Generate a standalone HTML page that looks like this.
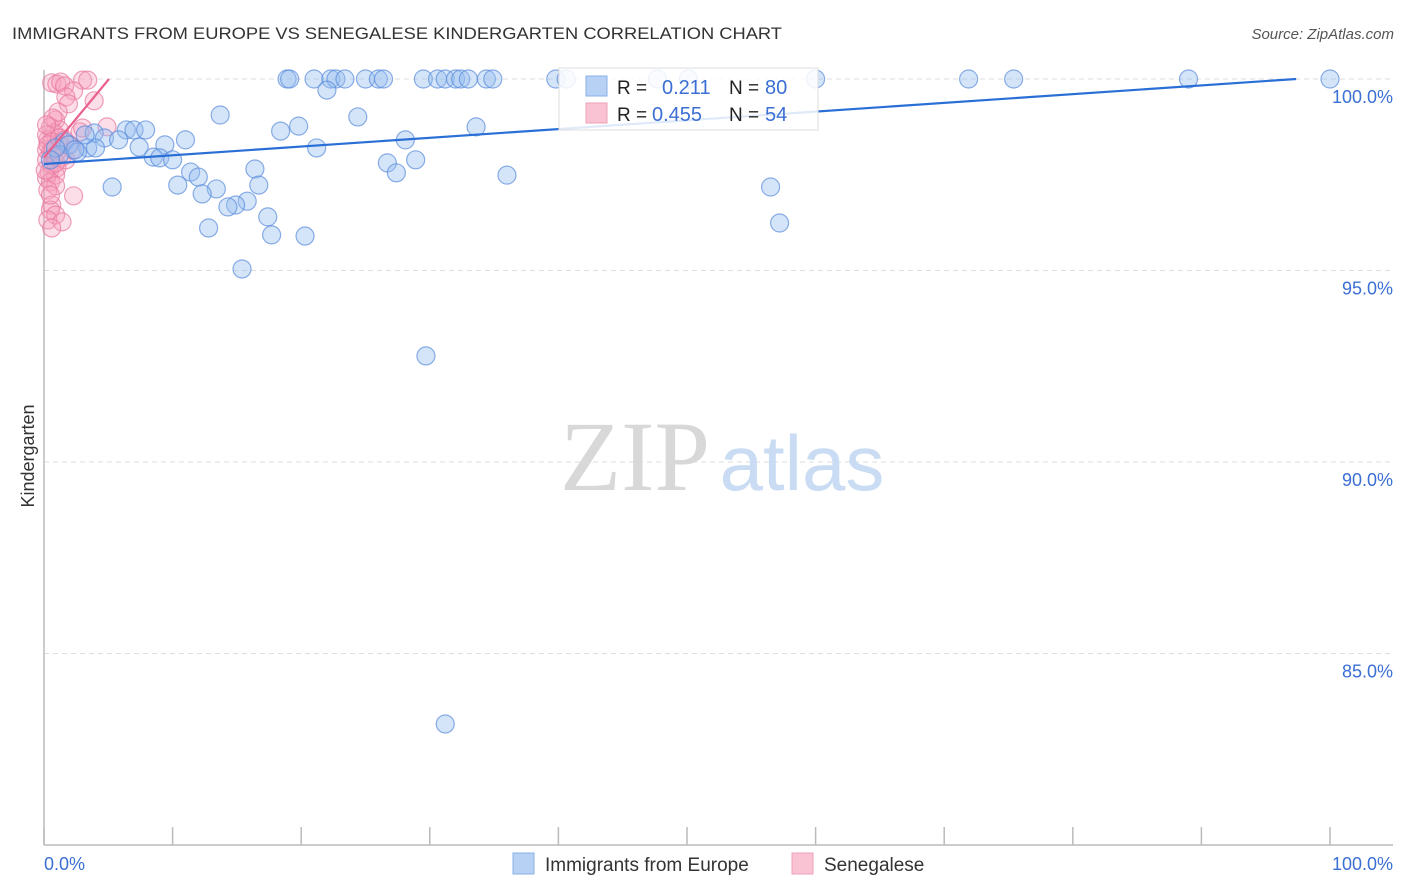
<!DOCTYPE html>
<html><head><meta charset="utf-8"><style>
html,body{margin:0;padding:0;background:#fff;}
svg{display:block;font-family:"Liberation Sans",sans-serif;}
</style></head><body>
<svg id="chart" width="1406" height="892" viewBox="0 0 1406 892">
<text x="12" y="39" font-size="17" fill="#333" textLength="770" lengthAdjust="spacingAndGlyphs">IMMIGRANTS FROM EUROPE VS SENEGALESE KINDERGARTEN CORRELATION CHART</text>
<text x="1394" y="39" font-size="15" fill="#555" font-style="italic" text-anchor="end">Source: ZipAtlas.com</text>
<g id="grid"></g>
<g>
<text x="635" y="490" font-size="100" font-family="Liberation Serif,serif" fill="#d8d8d8" text-anchor="middle">ZIP</text>
<text x="802" y="490" font-size="78" fill="#c9dcf3" text-anchor="middle">atlas</text>
</g>
<line x1="44" y1="70" x2="44" y2="845" stroke="#bbb" stroke-width="1.5"/>
<line x1="44" y1="845" x2="1393" y2="845" stroke="#bbb" stroke-width="1.5"/>
<g id="xticks"></g>
<g id="ylabels"></g>
<text x="44" y="870" font-size="18" fill="#3b6fd4">0.0%</text>
<text x="1393" y="870" font-size="18" fill="#3b6fd4" text-anchor="end">100.0%</text>
<text transform="translate(34,456) rotate(-90)" font-size="18" fill="#333" text-anchor="middle">Kindergarten</text>
<g id="pink"></g>
<g id="blue"></g>
<g id="lines"></g>
<g>
<rect x="559" y="68" width="259" height="62" fill="#fff" fill-opacity="0.85" stroke="#ddd"/>
<rect x="586" y="76" width="21" height="20" fill="#b7d1f5" stroke="#8ab0e8"/>
<rect x="586" y="103" width="21" height="20" fill="#f9c3d3" stroke="#eea0b8"/>
<text x="617" y="94" font-size="19" fill="#222">R = </text><text x="662" y="94" font-size="20" fill="#3b6fd4">0.211</text>
<text x="729" y="94" font-size="19" fill="#222">N = </text><text x="765" y="94" font-size="20" fill="#3b6fd4">80</text>
<text x="617" y="121" font-size="19" fill="#222">R = </text><text x="652" y="121" font-size="20" fill="#3b6fd4">0.455</text>
<text x="729" y="121" font-size="19" fill="#222">N = </text><text x="765" y="121" font-size="20" fill="#3b6fd4">54</text>
</g>
<g>
<rect x="513" y="853" width="21" height="21" fill="#b7d1f5" stroke="#8ab0e8"/>
<text x="545" y="871" font-size="19" fill="#333">Immigrants from Europe</text>
<rect x="792" y="853" width="21" height="21" fill="#f9c3d3" stroke="#eea0b8"/>
<text x="824" y="871" font-size="19" fill="#333">Senegalese</text>
</g>
</svg>
<script>
const yTicks=[100,95,90,85];
const yTickLabels=["100.0%","95.0%","90.0%","85.0%"];
const xTicks=[0,10,20,30,40,50,60,70,80,90,100];
const blueX=[18.9,19.1,21.0,22.3,22.7,23.4,25.0,26.0,26.4,29.5,30.6,31.2,32.0,32.4,33.0,34.4,34.9,39.8,40.6,47.7,50.1,60.0,71.9,75.4,89.0,100,
22.0,13.7,24.4,33.6,19.8,18.4,3.9,6.4,7.0,7.9,4.7,5.8,11.0,28.1,1.6,1.9,9.4,3.4,7.4,21.2,2.6,8.5,9.0,10.0,26.7,28.9,16.4,11.4,27.4,12.0,36.0,5.3,10.4,16.7,56.5,13.4,12.3,15.8,14.9,14.3,17.4,12.8,57.2,17.7,20.3,15.4,29.7,31.2,1.2,0.9,0.5,4.0,2.4,3.2];
const blueY=[100,100,100,100,100,100,100,100,100,100,100,100,100,100,100,100,100,100,100,100,100,100,100,100,100,100,
99.71,99.06,99.01,98.75,98.77,98.64,98.59,98.67,98.67,98.67,98.46,98.41,98.41,98.41,98.36,98.28,98.28,98.20,98.22,98.20,98.09,97.96,97.94,97.89,97.81,97.89,97.65,97.57,97.55,97.44,97.49,97.18,97.23,97.23,97.18,97.13,97.00,96.81,96.71,96.66,96.40,96.11,96.24,95.93,95.90,95.04,92.77,83.16,98.02,98.20,97.89,98.20,98.15,98.54];
const pinkX=[0.6,1.0,1.3,1.6,3.0,3.4,2.3,1.7,3.9,1.9,0.9,0.5,0.8,1.2,2.8,4.9,3.0,0.3,0.6,1.2,2.0,0.2,0.5,0.9,1.4,0.2,0.6,1.0,0.4,0.9,0.2,0.5,0.9,0.3,2.3,0.6,0.5,0.9,0.3,1.4,0.6,0.2,1.1,2.2,1.7,0.3,0.7,1.2,0.1,0.5,0.9,1.6,0.7,0.2];
const pinkY=[99.90,99.87,99.92,99.82,99.97,99.97,99.69,99.53,99.43,99.35,98.93,98.75,98.59,98.67,98.62,98.75,98.72,98.41,98.36,98.28,98.28,98.15,98.09,98.02,97.96,97.89,97.75,97.68,97.57,97.49,97.42,97.31,97.21,97.10,96.95,96.71,96.58,96.45,96.32,96.27,96.11,98.54,99.14,98.15,97.89,98.28,98.15,98.46,97.62,96.97,97.81,98.41,98.98,98.80];
// trend values at x=0 and x=100
const blueTrend=[97.78,100.06];
const pinkTrend=[97.95,138.5];

const NS="http://www.w3.org/2000/svg";
function xs(v){return 44+v*12.86;}
function ys(v){return 79+(100-v)*38.3;}
function mk(tag,attrs,parent){const e=document.createElementNS(NS,tag);for(const k in attrs)e.setAttribute(k,attrs[k]);parent.appendChild(e);return e;}
const grid=document.getElementById('grid'),yl=document.getElementById('ylabels'),xt=document.getElementById('xticks');
yTicks.forEach((t,i)=>{
  const l=mk('line',{x1:44,x2:1393,y1:ys(t),y2:ys(t),stroke:'#ddd','stroke-dasharray':'5,4'},grid);
  
  
  const tx=mk('text',{x:1393,y:ys(t)+24,'font-size':18,fill:'#3b6fd4','text-anchor':'end'},yl);
  tx.textContent=yTickLabels[i];
  
  
});
xTicks.forEach(t=>{
  const l=mk('line',{x1:xs(t),x2:xs(t),y1:827,y2:845,stroke:'#bbb','stroke-width':1.5},xt);
  
  
});
const pg=document.getElementById('pink');
pinkX.forEach((v,i)=>{
  const c=mk('circle',{cx:xs(v),cy:ys(pinkY[i]),r:9,fill:'rgba(245,160,190,0.35)',stroke:'rgba(232,120,160,0.7)','stroke-width':1.2},pg);
  
  
});
const bg=document.getElementById('blue');
blueX.forEach((v,i)=>{
  const c=mk('circle',{cx:xs(v),cy:ys(blueY[i]),r:9,fill:'rgba(150,190,240,0.4)',stroke:'rgba(90,140,220,0.7)','stroke-width':1.2},bg);
  
  
});
const lg=document.getElementById('lines');
function trend(tr,color,name){
  const slope=(tr[1]-tr[0])/100;
  let xe=100; if(tr[1]>100) xe=(100-tr[0])/slope;
  const l=mk('line',{x1:xs(0),y1:ys(tr[0]),x2:xs(xe),y2:ys(tr[0]+slope*xe),stroke:color,'stroke-width':2.2},lg);
  
  
}
trend(blueTrend,'#2a6fd6','europe-trend-line');
trend(pinkTrend,'#e8608e','senegalese-trend-line');
</script>
</body></html>
